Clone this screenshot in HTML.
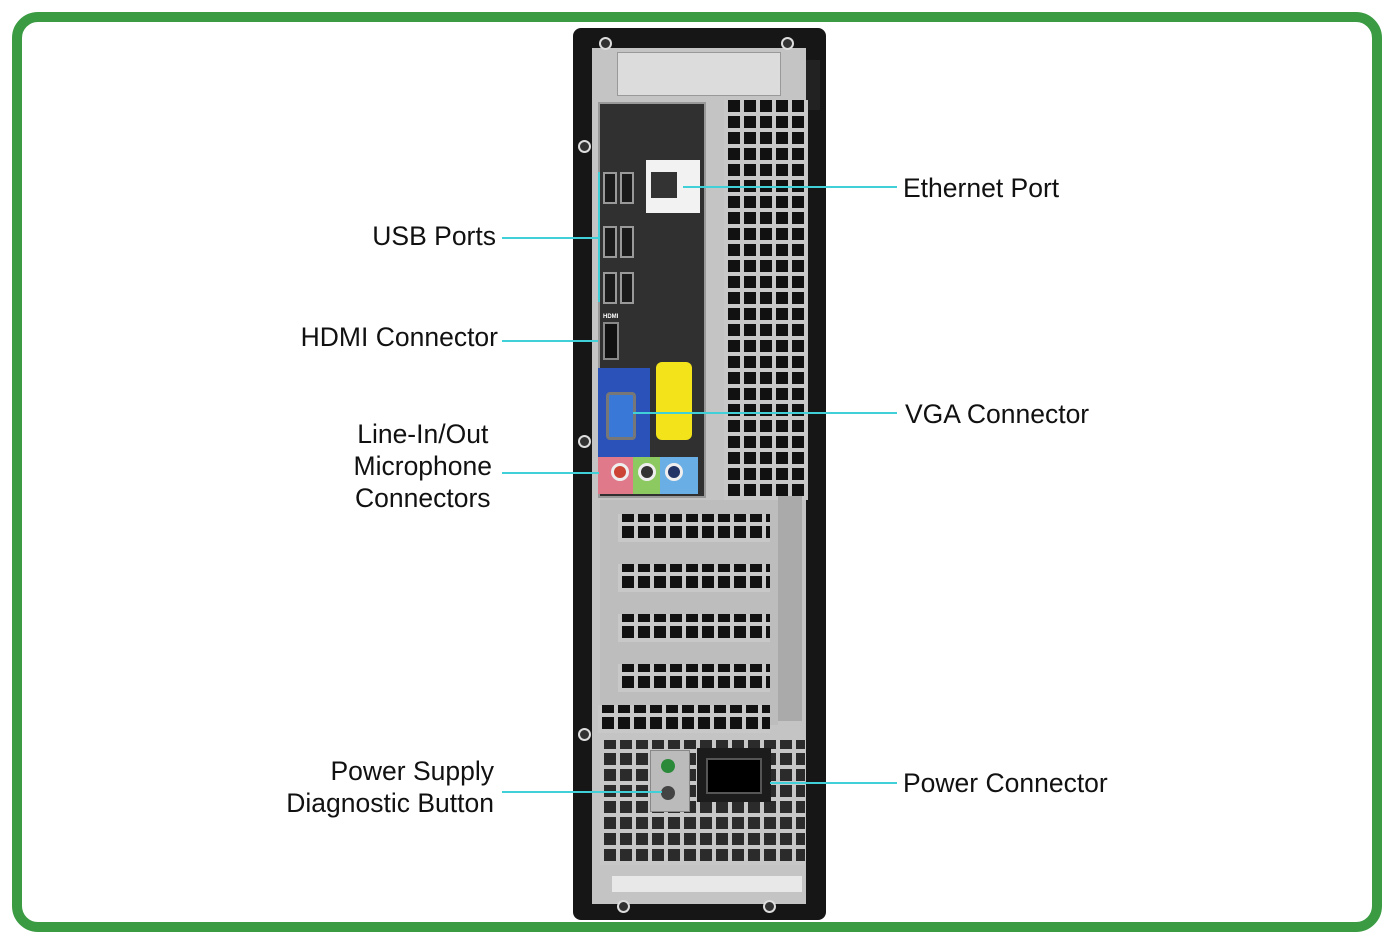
<!DOCTYPE html><html><head><style>
body{margin:0;width:1394px;height:944px;background:#fff;position:relative;overflow:hidden;font-family:"Liberation Sans",sans-serif}
.a{position:absolute}
.t{position:absolute;font-size:26.5px;color:#111;line-height:32px;white-space:nowrap}
.l{position:absolute;background:#3fd0d8;height:2px}
.grid{background:repeating-linear-gradient(90deg,#c8c8c8 0 4px,transparent 4px 16px),repeating-linear-gradient(0deg,#c8c8c8 0 4px,#111 4px 16px)}
.usb{position:absolute;width:14px;height:32px;background:#1a1a1a;border:2px solid #999;box-sizing:border-box}
.hole{position:absolute;width:9px;height:9px;border-radius:50%;background:#333;border:2px solid #ddd}
</style></head><body>
<div class="a" style="left:12px;top:12px;width:1350px;height:900px;border:10px solid #3a9b42;border-radius:26px"></div>
<div class="a" style="left:573px;top:28px;width:253px;height:892px;background:#161616;border-radius:8px"></div>
<div class="a" style="left:592px;top:48px;width:214px;height:856px;background:#c4c4c4"></div>
<div class="a" style="left:617px;top:52px;width:162px;height:42px;background:#dcdcdc;border:1px solid #999"></div>
<div class="a" style="left:806px;top:60px;width:14px;height:50px;background:#222"></div>
<div class="a grid" style="left:724px;top:100px;width:84px;height:400px"></div>
<div class="a" style="left:598px;top:102px;width:108px;height:396px;background:#303030;border:2px solid #999;box-sizing:border-box"></div>
<div class="a" style="left:646px;top:160px;width:54px;height:53px;background:#f2f2f2"></div>
<div class="a" style="left:651px;top:172px;width:26px;height:26px;background:#333"></div>
<div class="usb" style="left:603px;top:172px"></div><div class="usb" style="left:620px;top:172px"></div>
<div class="usb" style="left:603px;top:226px"></div><div class="usb" style="left:620px;top:226px"></div>
<div class="usb" style="left:603px;top:272px"></div><div class="usb" style="left:620px;top:272px"></div>
<div class="a" style="left:603px;top:314px;color:#fff;font-size:6px;font-weight:bold">HDMI</div>
<div class="a" style="left:603px;top:322px;width:16px;height:38px;background:#111;border:2px solid #888;box-sizing:border-box"></div>
<div class="a" style="left:598px;top:368px;width:52px;height:90px;background:#2b52b8"></div>
<div class="a" style="left:606px;top:392px;width:24px;height:42px;background:#3a78d8;border:3px solid #777;border-radius:4px"></div>
<div class="a" style="left:656px;top:362px;width:36px;height:78px;background:#f2e31a;border-radius:6px"></div>
<div class="a" style="left:598px;top:457px;width:35px;height:37px;background:#e07a8a"></div>
<div class="a" style="left:633px;top:457px;width:27px;height:37px;background:#8cc960"></div>
<div class="a" style="left:660px;top:457px;width:38px;height:37px;background:#6aaee6"></div>
<div class="a" style="left:611px;top:463px;width:18px;height:18px;border-radius:50%;background:#c43;border:3px solid #eee;box-sizing:border-box"></div>
<div class="a" style="left:638px;top:463px;width:18px;height:18px;border-radius:50%;background:#333;border:3px solid #eee;box-sizing:border-box"></div>
<div class="a" style="left:665px;top:463px;width:18px;height:18px;border-radius:50%;background:#236;border:3px solid #eee;box-sizing:border-box"></div>
<div class="a" style="left:600px;top:500px;width:178px;height:225px;background:#bdbdbd"></div>
<div class="a grid" style="left:618px;top:514px;width:152px;height:28px"></div>
<div class="a grid" style="left:618px;top:564px;width:152px;height:28px"></div>
<div class="a grid" style="left:618px;top:614px;width:152px;height:28px"></div>
<div class="a grid" style="left:618px;top:664px;width:152px;height:28px"></div>
<div class="a" style="left:778px;top:496px;width:24px;height:225px;background:#aaa"></div>
<div class="a grid" style="left:598px;top:705px;width:172px;height:28px"></div>
<div class="a grid" style="left:600px;top:740px;width:205px;height:125px;opacity:.85"></div>
<div class="a" style="left:650px;top:750px;width:38px;height:60px;background:#bbb;border:1px solid #888"></div>
<div class="a" style="left:661px;top:759px;width:14px;height:14px;border-radius:50%;background:#2a8a3a"></div>
<div class="a" style="left:661px;top:786px;width:14px;height:14px;border-radius:50%;background:#444"></div>
<div class="a" style="left:697px;top:748px;width:74px;height:54px;background:#1c1c1c"></div>
<div class="a" style="left:706px;top:758px;width:52px;height:32px;background:#000;border:2px solid #555"></div>
<div class="a" style="left:612px;top:876px;width:190px;height:16px;background:#e8e8e8"></div>
<div class="hole" style="left:599px;top:37px"></div><div class="hole" style="left:781px;top:37px"></div>
<div class="hole" style="left:578px;top:140px"></div><div class="hole" style="left:578px;top:435px"></div>
<div class="hole" style="left:578px;top:728px"></div><div class="hole" style="left:617px;top:900px"></div><div class="hole" style="left:763px;top:900px"></div>
<div class="a" style="left:598px;top:172px;width:2px;height:130px;background:#3fd0d8"></div>
<div class="l" style="left:502px;top:237px;width:97px"></div>
<div class="l" style="left:502px;top:340px;width:96px"></div>
<div class="l" style="left:502px;top:472px;width:97px"></div>
<div class="l" style="left:502px;top:791px;width:160px"></div>
<div class="l" style="left:683px;top:186px;width:214px"></div>
<div class="l" style="left:633px;top:412px;width:264px"></div>
<div class="l" style="left:770px;top:782px;width:127px"></div>
<div class="t" style="right:898px;top:220px">USB Ports</div>
<div class="t" style="right:896px;top:321px">HDMI Connector</div>
<div class="t" style="right:902px;top:418px;text-align:center">Line-In/Out<br>Microphone<br>Connectors</div>
<div class="t" style="right:900px;top:755px;text-align:right">Power Supply<br>Diagnostic Button</div>
<div class="t" style="left:903px;top:172px">Ethernet Port</div>
<div class="t" style="left:905px;top:398px">VGA Connector</div>
<div class="t" style="left:903px;top:767px">Power Connector</div>
</body></html>
